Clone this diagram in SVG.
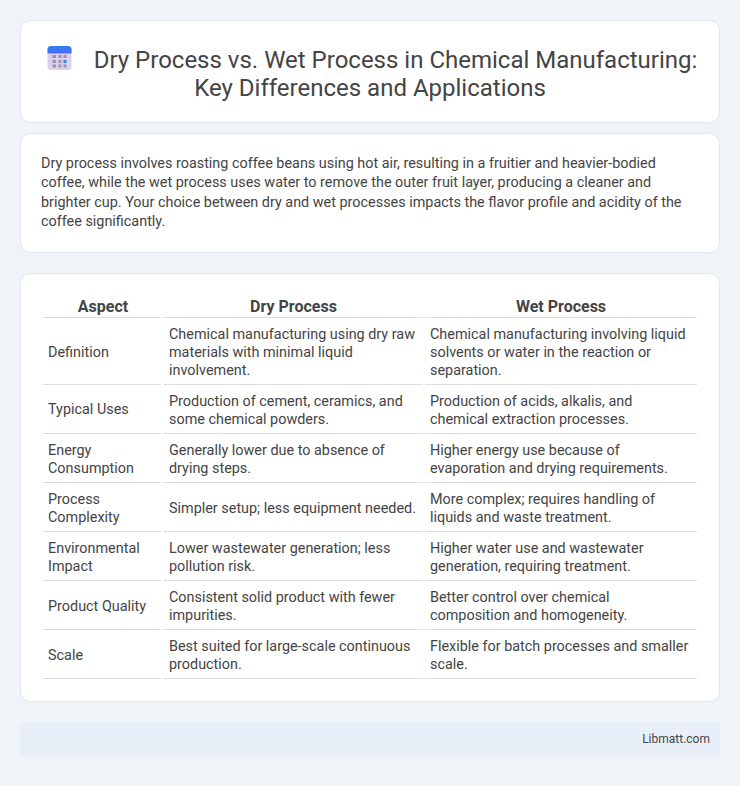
<svg xmlns="http://www.w3.org/2000/svg" width="740" height="786" viewBox="0 0 740 786">
<style>
text{font-family:Roboto,"Liberation Sans",sans-serif;fill:#444}
.card{fill:#fff;stroke:#e2e6f0;stroke-width:1}
.t{font-size:24px;text-anchor:middle;font-weight:400}
.p{font-size:14.4px}
.th{font-size:16px;font-weight:700;text-anchor:middle}
.c{font-size:14.4px}
.l{stroke:#ddd;stroke-width:1}
</style>
<defs><linearGradient id="g" x1="0" y1="0" x2="0" y2="1"><stop offset="0" stop-color="#2f7ff5"/><stop offset="1" stop-color="#4a6cf0"/></linearGradient></defs>
<rect width="740" height="786" fill="#f0f4f9"/>
<g id="header"><rect class="card" x="20.5" y="20.5" width="699" height="102" rx="10"/>
<g id="icon"><rect x="47.500" y="46" width="24" height="24" rx="3.500" fill="#dcd0ee"/><path d="M47.500 53.500V49.500a3.500 3.500 0 0 1 3.500-3.500h17a3.500 3.500 0 0 1 3.500 3.500V53.500z" fill="url(#g)"/>
<g fill="#9d94ac"><rect x="52.500" y="55" width="3.500" height="3"/><rect x="58.500" y="55" width="3" height="3"/><rect x="63.500" y="55" width="3" height="3"/><rect x="52.500" y="60" width="3.500" height="3"/><rect x="58.500" y="60" width="3" height="3"/><rect x="52.500" y="64.500" width="3.500" height="3"/><rect x="58.500" y="64.500" width="3" height="3"/><rect x="63.500" y="64.500" width="3" height="3"/></g><rect x="63.500" y="60" width="3" height="3" fill="#2f86f0"/></g>
<text class="t" x="395.500" y="68">Dry Process vs. Wet Process in Chemical Manufacturing:</text><text class="t" x="370" y="96">Key Differences and Applications</text></g>
<g id="intro"><rect class="card" x="20.5" y="133.500" width="699" height="119" rx="10"/>
<text class="p" x="41" y="168">Dry process involves roasting coffee beans using hot air, resulting in a fruitier and heavier-bodied</text>
<text class="p" x="41" y="187">coffee, while the wet process uses water to remove the outer fruit layer, producing a cleaner and</text>
<text class="p" x="41" y="207">brighter cup. Your choice between dry and wet processes impacts the flavor profile and acidity of the</text>
<text class="p" x="41" y="226">coffee significantly.</text></g>
<g id="table"><rect class="card" x="20.5" y="273.500" width="699" height="428" rx="10"/>
<text class="th" x="103" y="312">Aspect</text><text class="th" x="293.500" y="312">Dry Process</text><text class="th" x="561" y="312">Wet Process</text>
<g id="rules">
<path class="l" d="M43 317.500H161M164 317.500H423M425 317.500H697M43 384.500H161M164 384.500H423M425 384.500H697M43 433.500H161M164 433.500H423M425 433.500H697M43 482.500H161M164 482.500H423M425 482.500H697M43 531.500H161M164 531.500H423M425 531.500H697M43 580.500H161M164 580.500H423M425 580.500H697M43 629.500H161M164 629.500H423M425 629.500H697M43 678.500H161M164 678.500H423M425 678.500H697"/>
</g>
<g class="cells">
<text class="c" x="48" y="357">Definition</text>
<text class="c" x="169" y="339">Chemical manufacturing using dry raw</text><text class="c" x="169" y="357">materials with minimal liquid</text><text class="c" x="169" y="375">involvement.</text>
<text class="c" x="430" y="339">Chemical manufacturing involving liquid</text><text class="c" x="430" y="357">solvents or water in the reaction or</text><text class="c" x="430" y="375">separation.</text>
<text class="c" x="48" y="414">Typical Uses</text>
<text class="c" x="169" y="406">Production of cement, ceramics, and</text><text class="c" x="169" y="424">some chemical powders.</text>
<text class="c" x="430" y="406">Production of acids, alkalis, and</text><text class="c" x="430" y="424">chemical extraction processes.</text>
<text class="c" x="48" y="455">Energy</text><text class="c" x="48" y="473">Consumption</text>
<text class="c" x="169" y="455">Generally lower due to absence of</text><text class="c" x="169" y="473">drying steps.</text>
<text class="c" x="430" y="455">Higher energy use because of</text><text class="c" x="430" y="473">evaporation and drying requirements.</text>
<text class="c" x="48" y="504">Process</text><text class="c" x="48" y="522">Complexity</text>
<text class="c" x="169" y="513">Simpler setup; less equipment needed.</text>
<text class="c" x="430" y="504">More complex; requires handling of</text><text class="c" x="430" y="522">liquids and waste treatment.</text>
<text class="c" x="48" y="553">Environmental</text><text class="c" x="48" y="571">Impact</text>
<text class="c" x="169" y="553">Lower wastewater generation; less</text><text class="c" x="169" y="571">pollution risk.</text>
<text class="c" x="430" y="553">Higher water use and wastewater</text><text class="c" x="430" y="571">generation, requiring treatment.</text>
<text class="c" x="48" y="611">Product Quality</text>
<text class="c" x="169" y="602">Consistent solid product with fewer</text><text class="c" x="169" y="620">impurities.</text>
<text class="c" x="430" y="602">Better control over chemical</text><text class="c" x="430" y="620">composition and homogeneity.</text>
<text class="c" x="48" y="660">Scale</text>
<text class="c" x="169" y="651">Best suited for large-scale continuous</text><text class="c" x="169" y="669">production.</text>
<text class="c" x="430" y="651">Flexible for batch processes and smaller</text><text class="c" x="430" y="669">scale.</text>
</g></g>
<g id="footer"><rect x="20" y="722" width="700" height="34" fill="#e9eff9"/><text x="710" y="743" font-size="12" text-anchor="end">Libmatt.com</text></g>
</svg>
